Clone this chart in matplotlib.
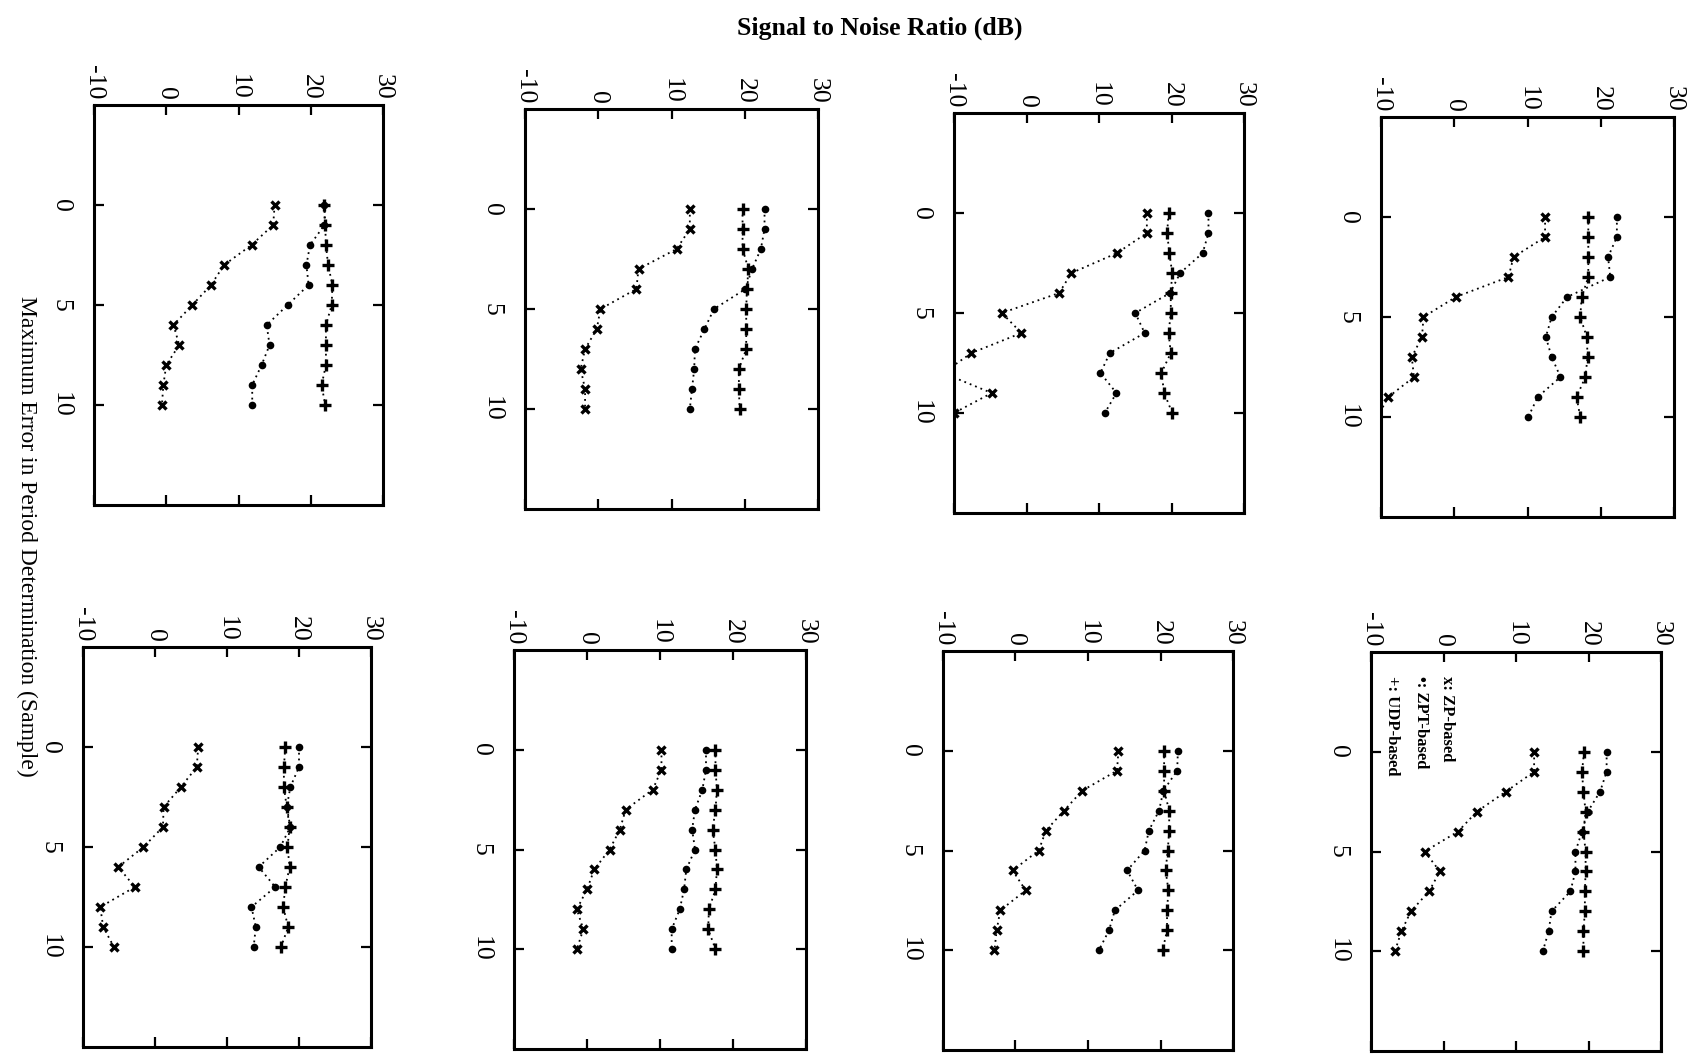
import matplotlib.pyplot as plt

plt.rcParams['font.family'] = ['Liberation Serif', 'DejaVu Serif']
plt.rcParams['axes.unicode_minus'] = False

# maximum error in period determination (samples)
err = [0, 1, 2, 3, 4, 5, 6, 7, 8, 9, 10]

# SNR (dB) per panel; panels ordered left->right, top row then bottom row
zp_1 = [15.0, 14.8, 11.8, 8.0, 6.2, 3.6, 1.0, 1.8, 0.0, -0.4, -0.6]
zpt_1 = [21.9, 21.9, 19.9, 19.4, 19.7, 16.8, 13.9, 14.3, 13.2, 11.9, 11.9]
udp_1 = [21.9, 22.0, 22.1, 22.4, 23.0, 22.9, 22.1, 22.1, 22.1, 21.5, 22.0]

zp_2 = [12.5, 12.5, 10.7, 5.5, 5.2, 0.3, -0.2, -1.8, -2.4, -1.8, -1.8]
zpt_2 = [22.7, 22.7, 22.2, 21.0, 20.1, 15.8, 14.5, 13.2, 13.1, 12.8, 12.5]
udp_2 = [19.7, 19.7, 19.7, 20.5, 20.3, 20.2, 20.2, 20.2, 19.2, 19.2, 19.3]

zp_3 = [16.6, 16.6, 12.5, 6.2, 4.5, -3.4, -0.7, -7.6, -11.5, -4.8, -10.0]
zpt_3 = [25.1, 25.1, 24.3, 21.2, 19.8, 15.0, 16.3, 11.5, 10.2, 12.4, 10.8]
udp_3 = [19.6, 19.4, 19.7, 20.1, 19.9, 19.9, 19.6, 19.9, 18.6, 19.0, 20.1]

zp_4 = [12.4, 12.4, 8.1, 7.4, 0.2, -4.2, -4.4, -5.8, -5.5, -9.0, -10.5]
zpt_4 = [22.2, 22.2, 21.0, 21.3, 15.4, 13.3, 12.5, 13.3, 14.5, 11.4, 10.1]
udp_4 = [18.3, 18.3, 18.3, 18.3, 17.4, 17.2, 18.1, 18.2, 17.9, 16.7, 17.2]

zp_5 = [6.0, 5.8, 3.6, 1.2, 1.1, -1.6, -5.1, -2.8, -7.6, -7.2, -5.7]
zpt_5 = [20.0, 20.0, 18.8, 18.3, 18.8, 17.4, 14.4, 16.7, 13.4, 14.0, 13.7]
udp_5 = [18.1, 17.9, 17.9, 18.3, 18.7, 18.4, 18.7, 18.1, 17.8, 18.5, 17.5]

zp_6 = [10.2, 10.2, 9.0, 5.3, 4.5, 3.1, 1.0, 0.0, -1.4, -0.5, -1.4]
zpt_6 = [16.3, 16.3, 15.8, 14.8, 14.4, 14.8, 13.6, 13.3, 12.7, 11.6, 11.6]
udp_6 = [17.6, 17.6, 17.8, 17.6, 17.2, 17.6, 17.8, 17.6, 16.7, 16.6, 17.6]

zp_7 = [14.2, 14.0, 9.2, 6.7, 4.2, 3.2, -0.4, 1.4, -2.1, -2.6, -2.9]
zpt_7 = [22.4, 22.3, 20.4, 19.8, 18.4, 17.8, 15.4, 16.9, 13.7, 12.9, 11.5]
udp_7 = [20.5, 20.5, 20.5, 21.2, 21.2, 21.0, 20.7, 21.1, 20.9, 20.9, 20.3]

zp_8 = [12.5, 12.5, 8.6, 4.6, 2.0, -2.6, -0.5, -2.0, -4.5, -5.8, -6.7]
zpt_8 = [22.5, 22.5, 21.6, 19.9, 19.1, 18.2, 18.2, 17.5, 14.9, 14.5, 13.7]
udp_8 = [19.4, 19.1, 19.3, 19.6, 19.3, 19.6, 19.6, 19.5, 19.5, 19.3, 19.3]

snr_ticks = [-10, 0, 10, 20, 30]
err_ticks = [0, 5, 10]
legend_labels = ['x: ZP-based', '\u2022: ZPT-based', '+: UDP-based']

panels = [
    (zp_1, zpt_1, udp_1), (zp_2, zpt_2, udp_2), (zp_3, zpt_3, udp_3), (zp_4, zpt_4, udp_4),
    (zp_5, zpt_5, udp_5), (zp_6, zpt_6, udp_6), (zp_7, zpt_7, udp_7), (zp_8, zpt_8, udp_8),
]

W, H = 1697, 1055
# box edges in pixels (left, top, right, bottom) - the scan is a bit skewed
boxes = [
    (94, 105, 383, 505), (525, 109, 818, 509), (954, 113, 1244, 513), (1381, 117, 1674, 517),
    (83, 647, 371, 1047), (514, 650, 806, 1049), (943, 651, 1233, 1050), (1371, 652, 1661, 1051),
]

fig = plt.figure(figsize=(W / 100, H / 100), dpi=100)

line_kw = dict(color='k', lw=1.3, ls=':', dashes=(1, 2.2))

for (zp, zpt, udp), (l, t, r, b) in zip(panels, boxes):
    ax = fig.add_axes([l / W, 1 - b / H, (r - l) / W, (b - t) / H])
    ax.plot(zp, err, marker='x', ms=5.5, mew=2.4, **line_kw)
    ax.plot(zpt, err, marker='o', ms=5.5, mew=0, **line_kw)
    ax.plot(udp, err, marker='+', ms=8, mew=2.4, **line_kw)
    ax.set_xlim(-10, 30)
    ax.set_ylim(15, -5)
    ax.set_xticks(snr_ticks)
    ax.set_yticks(err_ticks)
    ax.tick_params(direction='in', length=7, width=1.6, top=True, right=True,
                   labeltop=True, labelbottom=False, labelsize=18.5)
    ax.tick_params(axis='x', labelrotation=-90, pad=4)
    ax.tick_params(axis='y', labelrotation=-90, pad=16)
    for lbl in ax.get_yticklabels():
        lbl.set_va('center')
    for sp in ax.spines.values():
        sp.set_linewidth(2.2)

# legend text sits inside the last panel
for x, s in zip([0.5, -3.1, -7.1], legend_labels):
    ax.text(x, -3.8, s, rotation=-90, ha='center', va='top', fontsize=12, fontweight='bold')

fig.text(880 / W, 1 - 28 / H, 'Signal to Noise Ratio (dB)', ha='center', va='center',
         fontsize=18.5, fontweight='bold')
fig.text(27 / W, 1 - 536 / H, 'Maximum Error in Period Determination (Sample)',
         rotation=-90, ha='center', va='center', fontsize=17)

fig.savefig('out.png', dpi=100)
